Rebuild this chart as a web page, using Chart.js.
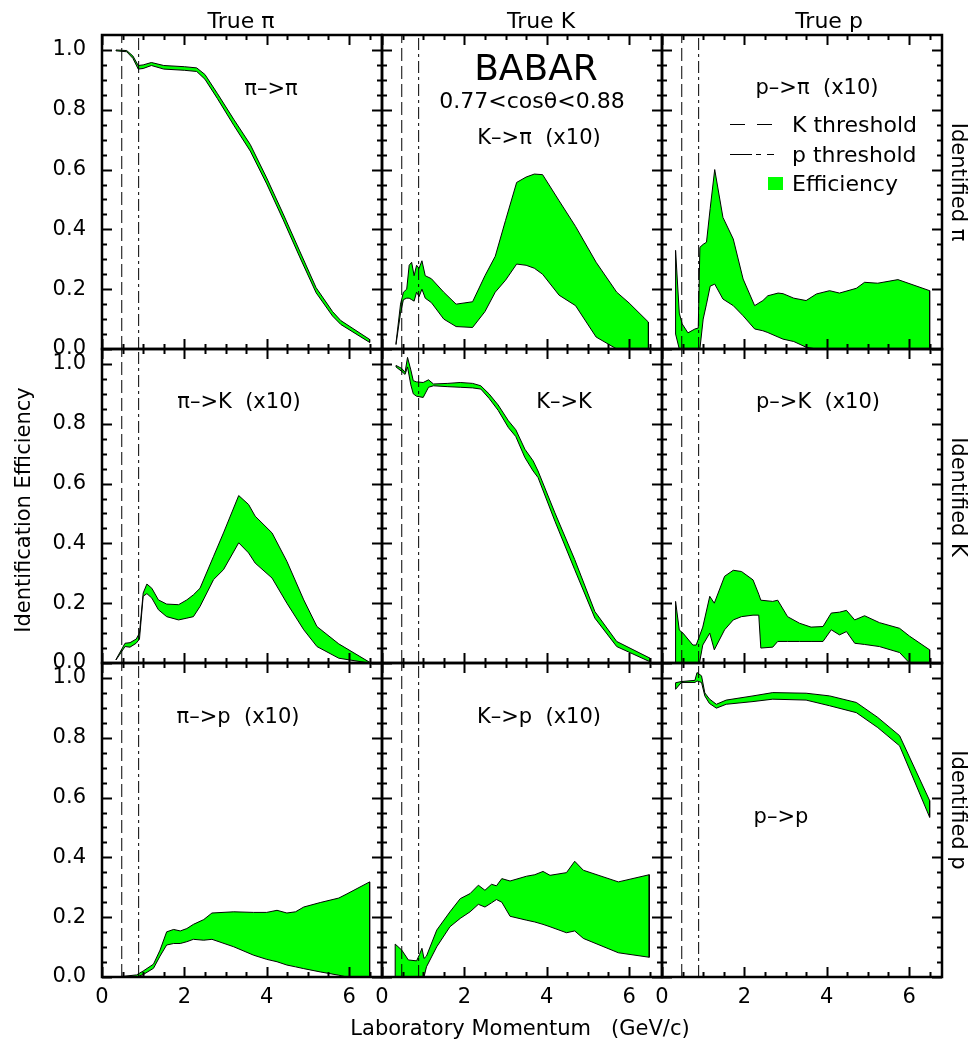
<!DOCTYPE html>
<html>
<head>
<meta charset="utf-8">
<script src="https://cdn.jsdelivr.net/npm/chart.js@4.4.1/dist/chart.umd.min.js"></script>
<style>
  body { margin: 0; background: #fff; }
  #fig { position: relative; width: 970px; height: 1040px; }
  #fig canvas { position: absolute; }
  #labels { position: absolute; left: 0; top: 0; z-index: 2; pointer-events: none; }
  #labels text { white-space: pre; }
</style>
</head>
<body>
<div id="fig">
<svg id="labels" width="970" height="1040" font-family="DejaVu Sans" font-size="21" fill="#000">
  <text x="241" y="28" text-anchor="middle" font-size="22">True π</text>
  <text x="541" y="28" text-anchor="middle" font-size="22">True K</text>
  <text x="829" y="28" text-anchor="middle" font-size="22">True p</text>

  <text x="536" y="80" text-anchor="middle" font-size="36">BABAR</text>
  <text x="532" y="108" text-anchor="middle" font-size="22">0.77&lt;cosθ&lt;0.88</text>

  <text x="271" y="95" text-anchor="middle">π–&gt;π</text>
  <text x="539" y="144" text-anchor="middle">K–&gt;π  (x10)</text>
  <text x="817" y="94" text-anchor="middle">p–&gt;π  (x10)</text>
  <text x="239" y="408" text-anchor="middle">π–&gt;K  (x10)</text>
  <text x="564" y="408" text-anchor="middle">K–&gt;K</text>
  <text x="818" y="408" text-anchor="middle">p–&gt;K  (x10)</text>
  <text x="238" y="723" text-anchor="middle">π–&gt;p  (x10)</text>
  <text x="539" y="723" text-anchor="middle">K–&gt;p  (x10)</text>
  <text x="781" y="823" text-anchor="middle">p–&gt;p</text>

  <!-- legend -->
  <line x1="730" y1="124.5" x2="774" y2="124.5" stroke="#000" stroke-width="1" stroke-dasharray="15,12"/>
  <line x1="730" y1="154.5" x2="774" y2="154.5" stroke="#000" stroke-width="1" stroke-dasharray="22,4,5,6"/>
  <text x="792" y="132" font-size="22">K threshold</text>
  <text x="792" y="162" font-size="22">p threshold</text>
  <rect x="768" y="177" width="15" height="13" fill="#00ff00"/>
  <text x="792" y="191" font-size="22">Efficiency</text>

  <text transform="translate(959,182) rotate(90)" text-anchor="middle" dominant-baseline="central">Identified π</text>
  <text transform="translate(959,497) rotate(90)" text-anchor="middle" dominant-baseline="central">Identified K</text>
  <text transform="translate(959,810) rotate(90)" text-anchor="middle" dominant-baseline="central">Identified p</text>

  <text transform="translate(23,510) rotate(-90)" text-anchor="middle" dominant-baseline="central">Identification Efficiency</text>
  <text x="520" y="1035" text-anchor="middle">Laboratory Momentum   (GeV/c)</text>
</svg>
</div>

<script>
// threshold momenta (GeV/c)
const kThreshold = 0.48;
const pThreshold = 0.89;

// ---- identified pi ----
const momPiPi = [0.34, 0.6, 0.75, 0.88, 1.0, 1.2, 1.5, 2.0, 2.3, 2.5, 2.8, 3.2, 3.6, 4.0, 4.4, 4.8, 5.2, 5.6, 5.8, 6.5];
const hiPiPi  = [1.0, 0.998, 0.98, 0.948, 0.95, 0.958, 0.948, 0.944, 0.94, 0.918, 0.855, 0.768, 0.684, 0.572, 0.452, 0.328, 0.205, 0.125, 0.095, 0.032];
const loPiPi  = [0.997, 0.994, 0.972, 0.936, 0.938, 0.948, 0.936, 0.932, 0.928, 0.902, 0.838, 0.748, 0.662, 0.552, 0.432, 0.308, 0.188, 0.11, 0.082, 0.022];

const momKPi = [0.34, 0.45, 0.52, 0.6, 0.66, 0.72, 0.78, 0.84, 0.9, 0.97, 1.05, 1.2, 1.5, 1.8, 2.2, 2.5, 2.75, 3.0, 3.27, 3.5, 3.7, 3.9, 4.3, 4.7, 5.2, 5.7, 6.0, 6.47];
const hiKPi  = [0.02, 0.15, 0.19, 0.2, 0.28, 0.29, 0.245, 0.28, 0.27, 0.295, 0.245, 0.235, 0.19, 0.15, 0.158, 0.245, 0.31, 0.43, 0.557, 0.575, 0.585, 0.583, 0.496, 0.41, 0.29, 0.19, 0.154, 0.09];
const loKPi  = [0.015, 0.12, 0.165, 0.17, 0.17, 0.165, 0.16, 0.19, 0.175, 0.2, 0.17, 0.155, 0.1, 0.075, 0.072, 0.125, 0.19, 0.23, 0.284, 0.28, 0.27, 0.25, 0.18, 0.145, 0.04, 0, 0, 0];

const momPPi = [0.33, 0.42, 0.49, 0.63, 0.8, 0.88, 0.92, 1.0, 1.08, 1.17, 1.28, 1.48, 1.73, 1.97, 2.25, 2.45, 2.57, 2.82, 2.94, 3.2, 3.5, 3.75, 4.07, 4.31, 4.72, 4.92, 5.24, 5.73, 6.5];
const hiPPi  = [0.33, 0.12, 0.084, 0.054, 0.067, 0.07, 0.34, 0.35, 0.357, 0.47, 0.6, 0.44, 0.368, 0.234, 0.145, 0.162, 0.178, 0.187, 0.185, 0.17, 0.162, 0.184, 0.195, 0.187, 0.203, 0.223, 0.22, 0.232, 0.195];
const loPPi  = [0.05, 0, 0, 0, 0, 0, 0, 0.1, 0.15, 0.21, 0.217, 0.167, 0.145, 0.111, 0.067, 0.061, 0.055, 0.04, 0.033, 0.025, 0.006, 0, 0, 0, 0, 0, 0, 0, 0];

// ---- identified K ----
const momPiK = [0.34, 0.56, 0.68, 0.83, 0.91, 1.0, 1.09, 1.21, 1.37, 1.57, 1.86, 2.06, 2.22, 2.38, 2.71, 2.95, 3.32, 3.56, 3.72, 4.13, 4.49, 4.9, 5.22, 5.75, 6.48];
const hiPiK  = [0.012, 0.066, 0.068, 0.08, 0.1, 0.234, 0.264, 0.25, 0.211, 0.197, 0.195, 0.211, 0.228, 0.25, 0.357, 0.435, 0.56, 0.53, 0.491, 0.435, 0.34, 0.211, 0.122, 0.064, 0.004];
const loPiK  = [0.01, 0.055, 0.053, 0.066, 0.08, 0.223, 0.232, 0.217, 0.178, 0.155, 0.144, 0.15, 0.155, 0.189, 0.279, 0.312, 0.402, 0.368, 0.334, 0.284, 0.2, 0.111, 0.055, 0.016, 0];

const momKK = [0.34, 0.48, 0.56, 0.62, 0.7, 0.76, 0.84, 1.0, 1.13, 1.25, 1.6, 1.9, 2.2, 2.4, 2.6, 2.82, 3.07, 3.25, 3.47, 3.67, 3.79, 4.2, 4.68, 5.17, 5.7, 6.51];
const hiKK  = [0.995, 0.985, 0.972, 1.022, 0.98, 0.944, 0.94, 0.938, 0.947, 0.933, 0.935, 0.938, 0.935, 0.927, 0.9, 0.863, 0.81, 0.78, 0.715, 0.676, 0.642, 0.502, 0.346, 0.172, 0.072, 0.016];
const loKK  = [0.99, 0.975, 0.965, 0.99, 0.93, 0.9, 0.892, 0.888, 0.922, 0.927, 0.924, 0.922, 0.92, 0.916, 0.885, 0.845, 0.787, 0.757, 0.687, 0.642, 0.62, 0.474, 0.312, 0.15, 0.055, 0.004];

const momPK = [0.33, 0.42, 0.51, 0.75, 0.83, 0.91, 0.99, 1.16, 1.27, 1.52, 1.73, 1.93, 2.21, 2.35, 2.4, 2.69, 2.81, 3.05, 3.34, 3.62, 3.91, 4.11, 4.31, 4.48, 4.68, 4.92, 5.28, 5.77, 6.01, 6.5];
const hiPK  = [0.206, 0.11, 0.1, 0.06, 0.06, 0.09, 0.12, 0.223, 0.2, 0.29, 0.31, 0.306, 0.278, 0.23, 0.21, 0.206, 0.21, 0.155, 0.133, 0.12, 0.122, 0.167, 0.17, 0.176, 0.144, 0.158, 0.135, 0.116, 0.09, 0.044];
const loPK  = [0, 0, 0, 0, 0, 0, 0.06, 0.1, 0.044, 0.111, 0.144, 0.155, 0.16, 0.16, 0.05, 0.053, 0.072, 0.072, 0.072, 0.072, 0.072, 0.111, 0.094, 0.105, 0.066, 0.062, 0.055, 0.035, 0, 0];

// ---- identified p ----
const momPiP = [0.36, 0.84, 1.0, 1.25, 1.41, 1.57, 1.74, 1.9, 2.06, 2.22, 2.47, 2.67, 3.2, 3.68, 4.0, 4.25, 4.49, 4.7, 4.9, 5.3, 5.75, 5.95, 6.5];
const hiPiP  = [0, 0.007, 0.02, 0.043, 0.09, 0.151, 0.159, 0.154, 0.162, 0.176, 0.192, 0.214, 0.218, 0.216, 0.216, 0.223, 0.214, 0.218, 0.234, 0.249, 0.264, 0.278, 0.318];
const loPiP  = [0, 0, 0.008, 0.029, 0.07, 0.107, 0.112, 0.112, 0.118, 0.126, 0.123, 0.126, 0.101, 0.073, 0.059, 0.051, 0.04, 0.034, 0.028, 0.017, 0.006, 0, 0];

const momKP = [0.32, 0.48, 0.64, 0.84, 0.91, 0.97, 1.02, 1.08, 1.33, 1.65, 1.9, 2.14, 2.34, 2.5, 2.66, 2.78, 2.91, 3.11, 3.51, 3.71, 3.91, 4.08, 4.48, 4.68, 4.89, 5.74, 6.49];
const hiKP  = [0.11, 0.09, 0.057, 0.054, 0.075, 0.096, 0.062, 0.07, 0.157, 0.218, 0.262, 0.279, 0.307, 0.29, 0.31, 0.305, 0.329, 0.321, 0.337, 0.342, 0.353, 0.34, 0.349, 0.387, 0.357, 0.318, 0.342];
const loKP  = [0, 0, 0, 0, 0, 0, 0, 0.034, 0.101, 0.168, 0.196, 0.218, 0.243, 0.234, 0.248, 0.259, 0.25, 0.203, 0.19, 0.184, 0.176, 0.168, 0.148, 0.154, 0.129, 0.081, 0.066];

const momPP = [0.33, 0.47, 0.8, 0.85, 0.96, 1.04, 1.15, 1.32, 1.56, 2.21, 2.69, 3.5, 4.07, 4.72, 5.24, 5.77, 6.5];
const hiPP  = [0.984, 0.988, 0.992, 1.018, 1.007, 0.95, 0.93, 0.912, 0.926, 0.94, 0.951, 0.949, 0.94, 0.918, 0.868, 0.807, 0.59];
const loPP  = [0.962, 0.985, 0.985, 0.99, 0.985, 0.94, 0.915, 0.899, 0.912, 0.921, 0.929, 0.926, 0.907, 0.884, 0.834, 0.773, 0.534];

// panel grid
const panelLeft = [102, 382, 662];
const panelTop = [35, 349, 663];
const panelW = 280, panelH = 314;
const PL = 100, PT = 40, PR = 20, PB = 50;

const panels = [
    [momPiPi, hiPiPi, loPiPi], [momKPi, hiKPi, loKPi], [momPPi, hiPPi, loPPi],
    [momPiK, hiPiK, loPiK],   [momKK, hiKK, loKK],    [momPK, hiPK, loPK],
    [momPiP, hiPiP, loPiP],   [momKP, hiKP, loKP],    [momPP, hiPP, loPP]
];

// frame + inward ticks on all four sides
const framePlugin = {
    id: "frame",
    afterDraw(chart) {
        const { ctx, chartArea: a, scales: { x, y } } = chart;
        ctx.save();
        ctx.strokeStyle = "#000";
        ctx.lineCap = "butt";
        ctx.beginPath();
        for (let i = 0; i <= 20; i++) {
            const py = Math.round(y.getPixelForValue(i * 0.05)) + 0.5;
            const len = i % 4 === 0 ? 10 : 5;
            ctx.moveTo(a.left, py); ctx.lineTo(a.left + len, py);
            ctx.moveTo(a.right, py); ctx.lineTo(a.right - len, py);
        }
        for (let i = 0; i <= 13; i++) {
            const px = Math.round(x.getPixelForValue(i * 0.5)) + 0.5;
            const len = i % 4 === 0 ? 10 : 5;
            ctx.moveTo(px, a.bottom); ctx.lineTo(px, a.bottom - len);
            ctx.moveTo(px, a.top); ctx.lineTo(px, a.top + len);
        }
        ctx.lineWidth = 2;
        ctx.stroke();
        ctx.lineWidth = 2.5;
        ctx.strokeRect(a.left, a.top, a.right - a.left, a.bottom - a.top);
        ctx.restore();
    }
};

const fig = document.getElementById("fig");
const tickFont = { family: "DejaVu Sans", size: 21 };

panels.forEach(([mom, hi, lo], n) => {
    const row = Math.floor(n / 3), col = n % 3;

    const canvas = document.createElement("canvas");
    canvas.width = panelW + PL + PR;
    canvas.height = panelH + PT + PB;
    canvas.style.left = (panelLeft[col] - PL) + "px";
    canvas.style.top = (panelTop[row] - PT) + "px";
    fig.appendChild(canvas);

    // closed outline: upper edge left->right, lower edge right->left
    const outline = mom.map((m, i) => ({ x: m, y: hi[i] }));
    for (let i = mom.length - 1; i >= 0; i--) outline.push({ x: mom[i], y: lo[i] });
    outline.push(outline[0]);

    new Chart(canvas, {
        type: "line",
        data: {
            datasets: [
                {
                    data: [{ x: kThreshold, y: 0 }, { x: kThreshold, y: 1.05 }],
                    borderColor: "#000", borderWidth: 1, borderDash: [13, 5],
                    pointRadius: 0, fill: false
                },
                {
                    data: [{ x: pThreshold, y: 0 }, { x: pThreshold, y: 1.05 }],
                    borderColor: "#000", borderWidth: 1, borderDash: [12, 4, 3, 4],
                    pointRadius: 0, fill: false
                },
                {
                    data: outline,
                    borderColor: "#000", borderWidth: 1,
                    backgroundColor: "#00ff00",
                    pointRadius: 0, fill: "shape"
                }
            ]
        },
        options: {
            responsive: false,
            animation: false,
            events: [],
            layout: { padding: { top: PT, right: PR, left: 0, bottom: 0 } },
            plugins: { legend: { display: false }, tooltip: { enabled: false } },
            scales: {
                x: {
                    type: "linear", min: 0, max: 6.8,
                    grid: { display: false, drawTicks: false },
                    border: { display: false },
                    ticks: {
                        display: row === 2, stepSize: 2, includeBounds: false,
                        maxRotation: 0, padding: 8, color: "#000", font: tickFont,
                        callback: v => String(v)
                    },
                    afterFit: s => { s.height = PB; }
                },
                y: {
                    type: "linear", min: 0, max: 1.05,
                    grid: { display: false, drawTicks: false },
                    border: { display: false },
                    ticks: {
                        display: col === 0, stepSize: 0.2, includeBounds: false,
                        padding: 16, color: "#000", font: tickFont,
                        callback: v => v.toFixed(1)
                    },
                    afterFit: s => { s.width = PL; }
                }
            }
        },
        plugins: [framePlugin]
    });
});
</script>
</body>
</html>
